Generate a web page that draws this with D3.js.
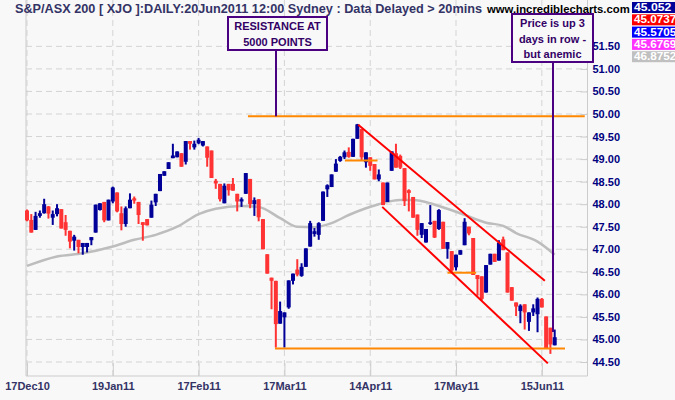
<!DOCTYPE html>
<html><head><meta charset="utf-8">
<script src="https://cdn.jsdelivr.net/npm/d3@7"></script>
<style>
html,body{margin:0;padding:0;background:#f8f8f8;}
svg{display:block;font-family:"Liberation Sans",Arial,sans-serif;}
</style></head>
<body><svg id="chart" width="675" height="400"></svg>
<script>
// ---- data ----
const tickBars = [0, 20, 40, 60, 80, 100, 120];
const tickLabels = ["17Dec10", "19Jan11", "17Feb11", "17Mar11", "14Apr11", "17May11", "15Jun11"];
const priceTicks = [44.5, 45, 45.5, 46, 46.5, 47, 47.5, 48, 48.5, 49, 49.5, 50, 50.5, 51, 51.5];

const open = [47.86,47.65,47.43,47.74,47.80,47.95,47.70,47.78,47.89,47.60,47.41,47.19,47.21,47.05,47.05,47.20,47.37,47.87,48.05,47.64,
48.06,48.26,47.80,47.56,47.91,48.13,48.05,47.60,47.67,47.70,48.04,48.29,48.63,48.78,49.02,49.04,49.13,48.94,49.40,49.26,
49.35,49.30,49.28,49.19,48.52,48.45,48.02,48.45,48.45,48.23,48.06,48.23,48.56,48.00,48.11,47.67,46.89,46.37,46.30,45.35,
45.49,45.71,46.30,46.55,46.41,46.61,47.06,47.34,47.32,47.63,48.33,48.38,48.72,48.96,49.04,49.16,49.05,49.45,49.67,48.93,
49.04,48.89,48.55,48.48,48.05,48.74,49.13,49.07,48.80,48.31,48.16,47.77,47.32,47.15,47.56,47.63,47.45,47.61,47.01,46.96,
46.60,46.88,47.09,47.50,47.25,46.43,46.40,46.04,46.66,46.90,46.75,47.22,46.93,46.16,45.82,45.63,45.78,45.39,45.60,45.56,
45.90,45.51,45.26,44.87];
const high = [47.88,47.78,47.83,47.86,48.12,47.96,47.86,48.00,47.89,47.76,47.41,47.32,47.21,47.14,47.14,47.27,47.99,48.02,48.05,48.10,
48.39,48.26,47.95,47.95,48.24,48.17,48.05,47.60,47.67,48.08,48.23,48.67,48.73,48.93,49.34,49.17,49.13,49.40,49.40,49.41,
49.47,49.40,49.28,49.19,48.56,48.45,48.46,48.45,48.58,48.23,48.15,48.69,48.56,48.15,48.11,47.67,46.89,46.37,46.30,45.84,
45.60,46.31,46.46,46.78,46.69,47.02,47.63,47.47,47.60,48.28,48.44,48.66,49.00,49.07,49.19,49.26,49.45,49.78,49.67,49.15,
49.04,48.89,48.77,48.48,48.48,49.17,49.34,49.10,48.80,48.33,48.16,47.77,47.58,47.45,47.98,47.63,47.89,47.61,47.16,46.96,
46.88,46.98,47.69,47.50,47.25,46.43,46.40,46.65,46.90,46.90,47.20,47.28,46.93,46.16,45.82,45.78,45.78,45.60,45.78,45.93,
45.92,45.51,45.26,45.22];
const low = [47.62,47.37,47.43,47.70,47.79,47.68,47.54,47.73,47.46,47.30,47.02,46.97,46.91,46.88,46.93,47.09,47.37,47.86,47.60,47.64,
48.02,47.82,47.42,47.50,47.91,48.01,47.56,47.19,47.53,47.70,47.96,48.29,48.63,48.78,49.02,49.04,48.83,48.88,49.21,49.21,
49.33,49.28,48.83,48.58,48.34,48.06,48.02,48.19,48.30,47.84,47.94,48.23,47.91,47.74,47.62,47.00,46.46,45.67,44.82,45.35,
44.82,45.68,46.22,46.40,46.39,46.61,47.06,47.28,47.21,47.63,48.16,48.38,48.72,48.94,49.00,49.03,49.05,49.45,48.96,48.81,
48.74,48.55,48.51,47.98,48.05,48.74,48.81,48.78,47.96,47.84,47.70,47.30,47.25,47.15,47.54,47.25,47.43,47.01,46.79,46.49,
46.53,46.88,47.09,47.31,46.43,45.97,45.86,46.04,46.66,46.72,46.75,46.98,46.04,45.86,45.52,45.36,45.22,45.19,45.52,45.16,
45.71,44.81,44.68,44.87];
const close = [47.64,47.37,47.74,47.80,48.00,47.79,47.78,47.91,47.46,47.43,47.17,47.28,47.05,47.14,47.14,47.27,47.99,48.02,47.64,48.10,
48.37,47.84,47.56,47.91,48.10,48.08,47.76,47.54,47.53,47.99,48.23,48.67,48.73,48.93,49.08,49.17,48.83,49.40,49.34,49.34,
49.43,49.40,49.03,48.58,48.46,48.11,48.41,48.31,48.30,48.06,48.11,48.69,48.00,48.09,47.71,47.00,46.46,46.30,45.34,45.63,
45.60,46.31,46.46,46.44,46.61,47.02,47.58,47.40,47.58,48.28,48.42,48.66,48.90,49.05,49.15,49.05,49.45,49.77,49.04,49.15,
48.85,48.55,48.66,47.98,48.48,49.17,48.81,48.81,48.07,48.25,47.70,47.43,47.58,47.45,47.60,47.26,47.87,47.01,47.16,46.53,
46.88,46.98,47.61,47.35,46.43,46.34,45.90,46.65,46.90,46.72,47.15,46.98,46.04,45.86,45.73,45.75,45.60,45.60,45.69,45.90,
45.71,44.81,44.89,45.05];

// grey moving average read at sample bars
const maBars = [0,7,13,20,25,30,35,40,44,50,54,59,63,67,71,75,79,82,87,90,94,96,101,107,111,114,119,123];
const maValues = [46.63,46.84,46.91,47.06,47.21,47.32,47.50,47.78,47.90,47.96,47.94,47.69,47.50,47.49,47.58,47.76,47.91,48.00,48.09,48.09,48.02,47.96,47.80,47.59,47.52,47.36,47.17,46.88];

// legend values (top right)
const legendValues = ["45.052", "45.0737", "45.5705", "45.6769", "46.8752"];
const legendColors = ["#000099", "#ff0000", "#0000ff", "#ff33ff", "#c0c0c0"];

// annotation lines [bar1, price1, bar2, price2]
const orangeLines = [[51.5, 49.95, 130, 49.95], [57.8, 44.80, 125.4, 44.80], [74.1, 48.97, 81.7, 48.97], [98.0, 46.48, 104.7, 46.48]];
const channelLines = [[77.2, 49.76, 120.7, 46.30], [82.8, 47.94, 121.4, 44.47]];

// ---- drawing ----
const svg = d3.select("#chart");
const W = 675, H = 400;
const plotL = 26, plotR = 587.5, plotB = 376, plotT = 0;
const x = d3.scaleLinear().domain([0, 123]).range([27, 554.7]);
const y = d3.scaleLinear().domain([44.5, 50]).range([362, 114]);

svg.append("rect").attr("width", W).attr("height", H).attr("fill", "#f8f8f8");

// gridlines
const grid = svg.append("g");
grid.selectAll("line.h").data(priceTicks).enter().append("line")
  .attr("x1", plotL).attr("x2", plotR).attr("y1", d => y(d)).attr("y2", d => y(d))
  .attr("stroke", "#d4d4d4").attr("stroke-width", 1).attr("stroke-dasharray", "6,4");
grid.selectAll("line.v").data(tickBars).enter().append("line")
  .attr("x1", d => x(d)).attr("x2", d => x(d)).attr("y1", plotT).attr("y2", plotB)
  .attr("stroke", "#d4d4d4").attr("stroke-width", 1).attr("stroke-dasharray", "6,4");

// frame
svg.append("line").attr("x1", plotL).attr("x2", plotL).attr("y1", plotT).attr("y2", plotB).attr("stroke", "#cccccc");

// x axis
const xAxis = d3.axisBottom(x).tickValues(tickBars).tickFormat((d, i) => tickLabels[i]).tickSizeInner(-13).tickSizeOuter(0).tickPadding(6);
const gx = svg.append("g").attr("transform", `translate(0,${plotB})`).call(xAxis);
gx.select(".domain").attr("d", `M${plotL},0H${plotR}`).attr("stroke", "#cccccc");
gx.selectAll(".tick line").attr("stroke", "#cccccc");
gx.selectAll(".tick text").attr("fill", "#333366").attr("font-size", 11).attr("font-weight", "bold").attr("font-family", "Liberation Sans, Arial, sans-serif");

// y axis right
const yAxis = d3.axisRight(y).tickValues(priceTicks).tickFormat(d3.format(".2f")).tickSizeInner(-7).tickSizeOuter(0).tickPadding(5);
const gy = svg.append("g").attr("transform", `translate(${plotR},0)`).call(yAxis);
gy.select(".domain").attr("d", `M0,${plotT}V${plotB}`).attr("stroke", "#cccccc");
gy.selectAll(".tick line").attr("stroke", "#cccccc");
gy.selectAll(".tick text").attr("fill", "#000080").attr("font-size", 11).attr("font-weight", "bold").attr("font-family", "Liberation Sans, Arial, sans-serif");

// moving average
const ma = maBars.map((b, i) => [b, maValues[i]]);
svg.append("path").datum(ma)
  .attr("d", d3.line().x(d => x(d[0])).y(d => y(d[1])).curve(d3.curveMonotoneX))
  .attr("fill", "none").attr("stroke", "#bdbdbd").attr("stroke-width", 2.5);

// candles
const idx = d3.range(open.length);
const up = i => close[i] >= open[i];
const cg = svg.append("g");
cg.selectAll("line.wick").data(idx).enter().append("line")
  .attr("x1", i => x(i)).attr("x2", i => x(i))
  .attr("y1", i => y(high[i])).attr("y2", i => y(low[i]))
  .attr("stroke", i => up(i) ? "#000099" : "#ff3333").attr("stroke-width", 2);
cg.selectAll("rect.body").data(idx).enter().append("rect")
  .attr("x", i => x(i) - 2).attr("width", 4)
  .attr("y", i => y(Math.max(open[i], close[i])))
  .attr("height", i => Math.max(1.5, Math.abs(y(open[i]) - y(close[i]))))
  .attr("fill", i => up(i) ? "#000099" : "#ff3333");

// orange lines
svg.selectAll("line.or").data(orangeLines).enter().append("line")
  .attr("x1", d => Math.max(x(d[0]), 0)).attr("x2", d => Math.min(x(d[2]), plotR))
  .attr("y1", d => y(d[1])).attr("y2", d => y(d[3]))
  .attr("stroke", "#ff8800").attr("stroke-width", 2);

// channel lines
svg.selectAll("line.ch").data(channelLines).enter().append("line")
  .attr("x1", d => x(d[0])).attr("x2", d => x(d[2]))
  .attr("y1", d => y(d[1])).attr("y2", d => y(d[3]))
  .attr("stroke", "#ff0000").attr("stroke-width", 2);

// title
svg.append("text").attr("x", 15).attr("y", 13).attr("fill", "#333366")
  .attr("font-size", 12).attr("font-weight", "bold")
  .attr("textLength", 467).attr("lengthAdjust", "spacingAndGlyphs")
  .text("S&P/ASX 200 [ XJO ]:DAILY:20Jun2011 12:00 Sydney : Data Delayed > 20mins");

// annotation boxes
function note(bx, by, bw, bh, lines, lx, ly1, ly2) {
  svg.append("line").attr("x1", lx).attr("x2", lx).attr("y1", ly1).attr("y2", ly2)
    .attr("stroke", "#4b0082").attr("stroke-width", 2);
  svg.append("rect").attr("x", bx).attr("y", by).attr("width", bw).attr("height", bh)
    .attr("fill", "#f8f8f8").attr("stroke", "#4b0082").attr("stroke-width", 2);
  lines.forEach((t, i) => {
    svg.append("text").attr("x", bx + bw / 2).attr("y", by + 13 + i * 15.5).attr("text-anchor", "middle")
      .attr("fill", "#330066").attr("font-size", 11).attr("font-weight", "bold").text(t);
  });
}
note(228, 17, 99, 33, ["RESISTANCE AT", "5000 POINTS"], 276, 50, y(49.95));
note(512, 14, 81, 48, ["Price is up 3", "days in row -", "but anemic"], 553, 62, 332);

svg.append("text").attr("x", 487).attr("y", 12.5).attr("fill", "#000000")
  .attr("font-size", 11.3).attr("font-weight", "bold")
  .text("www.incrediblecharts.com");

// legend boxes
legendValues.forEach((v, i) => {
  svg.append("rect").attr("x", 632).attr("y", 2 + i * 12.3).attr("width", 43).attr("height", 11).attr("fill", legendColors[i]);
  svg.append("text").attr("x", 634).attr("y", 11 + i * 12.3).attr("fill", "#ffffff")
    .attr("font-size", 10).attr("font-weight", "bold")
    .attr("textLength", 6 + v.length * 5.2).attr("lengthAdjust", "spacingAndGlyphs").text(v);
});
</script></body></html>
